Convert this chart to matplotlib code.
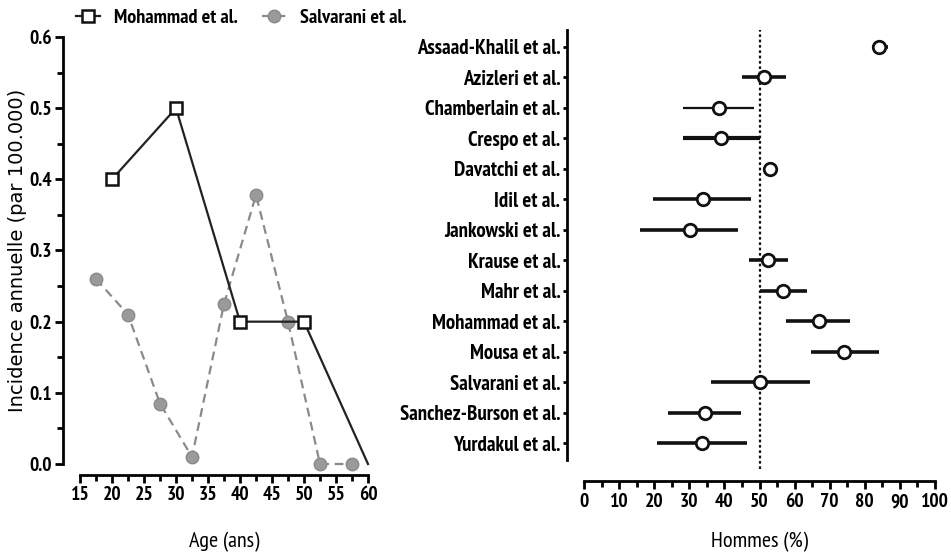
import matplotlib
matplotlib.use("Agg")
import matplotlib.pyplot as plt
from matplotlib.ticker import MultipleLocator
from matplotlib import font_manager

names = {f.name for f in font_manager.fontManager.ttflist}
prefs = ['PT Sans Narrow', 'Archivo Narrow', 'Roboto Condensed']
narrow = next((n for n in prefs if n in names), 'DejaVu Sans')
plt.rcParams['font.family'] = [narrow, 'DejaVu Sans']
plt.rcParams['font.weight'] = 'bold'

# ---- data ----
moh_age = [20, 30, 40, 50, 60]
moh_inc = [0.40, 0.50, 0.20, 0.20, 0.00]
sal_age = [17.5, 22.5, 27.5, 32.5, 37.5, 42.5, 47.5, 52.5, 57.5]
sal_inc = [0.26, 0.21, 0.085, 0.01, 0.225, 0.378, 0.20, 0.0, 0.0]

studies = ["Assaad-Khalil et al.", "Azizleri et al.", "Chamberlain et al.", "Crespo et al.",
           "Davatchi et al.", "Idil et al.", "Jankowski et al.", "Krause et al.", "Mahr et al.",
           "Mohammad et al.", "Mousa et al.", "Salvarani et al.", "Sanchez-Burson et al.",
           "Yurdakul et al."]
men_pct = [84.0, 51.3, 38.5, 39.0, 53.0, 34.0, 30.2, 52.4, 56.7, 67.0, 74.0, 50.0, 34.5, 33.6]
ci_low = [82.0, 45.0, 28.2, 28.2, 53.0, 19.7, 16.0, 47.0, 50.1, 57.5, 64.7, 36.2, 24.0, 20.8]
ci_high = [86.6, 57.5, 48.4, 50.0, 53.0, 47.6, 43.9, 58.0, 63.5, 75.8, 84.0, 64.4, 44.7, 46.4]
ci_lw = [2.6, 2.6, 1.6, 3.0, 0, 2.6, 2.6, 2.6, 2.6, 2.6, 2.6, 2.6, 2.6, 2.6]

W, H = 951, 556
fig = plt.figure(figsize=(W / 100, H / 100), dpi=100)

def rect(x0, x1, y0, y1):
    return [x0 / W, 1 - y1 / H, (x1 - x0) / W, (y1 - y0) / H]

# ---- left panel ----
ax1 = fig.add_axes(rect(80, 368, 37, 464))
l1, = ax1.plot(moh_age[:-1], moh_inc[:-1], color='#222222', lw=1.6, marker='s', ms=9,
               mfc='white', mec='#111111', mew=1.8, zorder=3)
ax1.plot(moh_age[-2:], moh_inc[-2:], color='#222222', lw=1.6, zorder=2, clip_on=False)
l2, = ax1.plot(sal_age, sal_inc, color='#8a8a8a', lw=1.6, ls=(0, (4, 2.5)), marker='o', ms=9,
               mfc='#9a9a9a', mec='#8a8a8a', zorder=2, clip_on=False)
ax1.set_xlim(15, 60)
ax1.set_ylim(0, 0.6)
ax1.xaxis.set_major_locator(MultipleLocator(5))
ax1.xaxis.set_minor_locator(MultipleLocator(2.5))
ax1.yaxis.set_major_locator(MultipleLocator(0.1))
ax1.yaxis.set_minor_locator(MultipleLocator(0.05))
ax1.yaxis.set_major_formatter(plt.FuncFormatter(lambda v, p: f"{v:.1f}"))
for s in ['top', 'right']:
    ax1.spines[s].set_visible(False)
ax1.spines['left'].set_position(('outward', 12))
ax1.spines['bottom'].set_position(('outward', 8))
for s in ['left', 'bottom']:
    ax1.spines[s].set_linewidth(2.0)
ax1.tick_params(which='major', length=6, width=2.0, labelsize=14, direction='out', pad=2)
ax1.tick_params(which='minor', length=4, width=2.0, direction='out')
ax1.set_xlabel("Age (ans)", fontsize=16, labelpad=20)
ax1.set_ylabel("Incidence annuelle (par 100.000)", fontsize=14, family='DejaVu Sans', weight='normal')
ax1.yaxis.set_label_coords(-0.185, 0.5)
leg = fig.legend([l1, l2], ["Mohammad et al.", "Salvarani et al."], loc='center left',
                 bbox_to_anchor=(76 / W, 1 - 18 / H), ncol=2, frameon=False, fontsize=14.5,
                 handlelength=1.2, columnspacing=1.2, handletextpad=0.7, borderaxespad=0,
                 borderpad=0)

# ---- right panel ----
ax2 = fig.add_axes(rect(584, 935, 30, 460))
ypos = list(range(len(studies)))
for i in ypos:
    if ci_high[i] > ci_low[i]:
        ax2.plot([ci_low[i], ci_high[i]], [i, i], color='#111111', lw=ci_lw[i], solid_capstyle='butt', zorder=2)
ax2.plot(men_pct, ypos, ls='none', marker='o', ms=9, mfc='white', mec='#111111', mew=2.0, zorder=3)
ax2.axvline(50, color='#111111', lw=1.6, ls=(0, (1.2, 1.2)), ymin=-0.02, ymax=1.0, clip_on=False, zorder=1)
ax2.set_xlim(0, 100)
ax2.set_ylim(13.55, -0.55)
ax2.set_yticks(ypos)
ax2.set_yticklabels(studies)
ax2.xaxis.set_major_locator(MultipleLocator(10))
ax2.xaxis.set_minor_locator(MultipleLocator(5))
for s in ['top', 'right']:
    ax2.spines[s].set_visible(False)
ax2.spines['left'].set_position(('outward', 12))
ax2.spines['bottom'].set_position(('outward', 15))
for s in ['left', 'bottom']:
    ax2.spines[s].set_linewidth(2.0)
ax2.tick_params(axis='y', length=3, width=2.0, labelsize=15, pad=2)
ax2.tick_params(axis='x', which='major', length=6, width=2.0, labelsize=14, pad=3)
ax2.tick_params(axis='x', which='minor', length=4, width=2.0)
ax2.set_xlabel("Hommes (%)", fontsize=16, labelpad=15)

fig.savefig("out.png", dpi=100)
